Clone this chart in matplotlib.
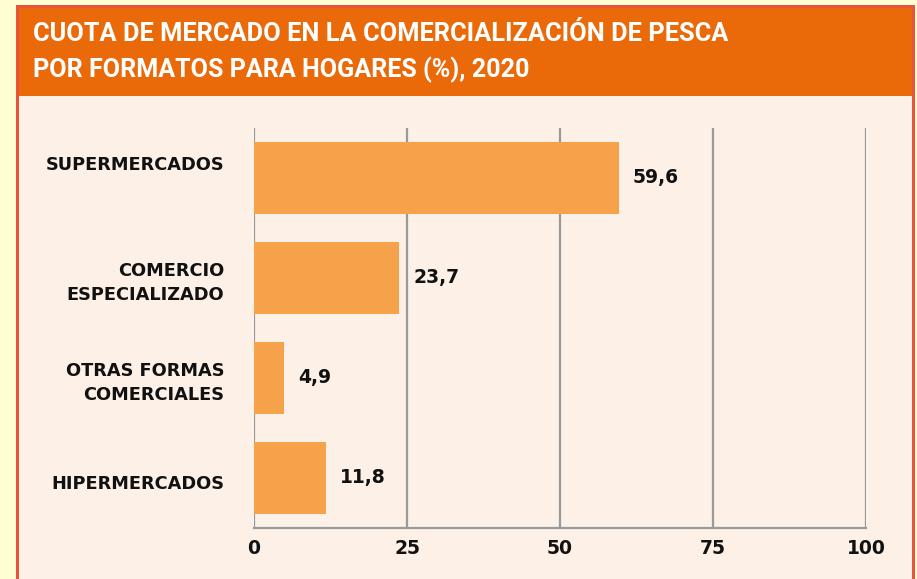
import matplotlib.pyplot as plt
from matplotlib.patches import Rectangle
from matplotlib.transforms import ScaledTranslation

# Data
categorias = ['SUPERMERCADOS', 'COMERCIO\nESPECIALIZADO', 'OTRAS FORMAS\nCOMERCIALES', 'HIPERMERCADOS']
cuota = [59.6, 23.7, 4.9, 11.8]
etiquetas = ['59,6', '23,7', '4,9', '11,8']
xticks = [0, 25, 50, 75, 100]
# small vertical shift of the category labels seen in the original (pixels, + is up)
desplaz_etiqueta = [15, 0, 0, -4]

W, H = 917, 579
fig = plt.figure(figsize=(W / 100, H / 100), dpi=100)
fig.patch.set_facecolor('#FFFDD2')

# panel frame, header and body (behind the axes)
fig.patches.append(Rectangle((16 / W, 0), (915 - 16) / W, (H - 5) / H, transform=fig.transFigure,
                             facecolor='#E8533C', edgecolor='none', zorder=-3))
fig.patches.append(Rectangle((19 / W, 0), (912 - 19) / W, (H - 96) / H, transform=fig.transFigure,
                             facecolor='#FCF0E7', edgecolor='none', zorder=-2))
fig.patches.append(Rectangle((19 / W, (H - 96) / H), (912 - 19) / W, (96 - 8) / H, transform=fig.transFigure,
                             facecolor='#EA6A0A', edgecolor='none', zorder=-2))

fig.text(33 / W, 1 - 34 / H, 'CUOTA DE MERCADO EN LA COMERCIALIZACIÓN DE PESCA',
         color='white', fontsize=18.3, family='Roboto', fontweight='bold', va='center', ha='left')
fig.text(33 / W, 1 - 70 / H, 'POR FORMATOS PARA HOGARES (%), 2020',
         color='white', fontsize=18.1, family='Roboto', fontweight='bold', va='center', ha='left')

ax = fig.add_axes([254 / W, (H - 528) / H, 612 / W, 400 / H])
ax.set_facecolor('none')
y = list(range(len(categorias)))
ax.barh(y, cuota, height=0.72, color='#F6A24A', zorder=3)
for yi, v, t in zip(y, cuota, etiquetas):
    ax.text(v + 2.3, yi, t, va='center', ha='left', fontsize=13.5, fontweight='bold', color='#111111')

ax.set_xlim(0, 100)
ax.set_ylim(3.5, -0.5)
ax.set_xticks(xticks)
ax.set_xticklabels([str(t) for t in xticks], fontsize=13.5, fontweight='bold')
ax.set_yticks(y)
ax.set_yticklabels(categorias, fontsize=12.8, fontweight='bold', linespacing=1.45)
ax.tick_params(axis='both', length=0, colors='#111111')
ax.tick_params(axis='y', pad=21.5)
ax.tick_params(axis='x', pad=8)
ax.grid(axis='x', color='#9A9A9A', linewidth=1.6, zorder=1)
ax.grid(axis='y', visible=False)
for s in ['top', 'right', 'left']:
    ax.spines[s].set_visible(False)
ax.spines['bottom'].set_color('#9A9A9A')
ax.spines['bottom'].set_linewidth(1.6)

for lab, d in zip(ax.get_yticklabels(), desplaz_etiqueta):
    lab.set_transform(lab.get_transform() + ScaledTranslation(0, d / 100, fig.dpi_scale_trans))

fig.savefig('out.png', dpi=100, facecolor=fig.get_facecolor())
